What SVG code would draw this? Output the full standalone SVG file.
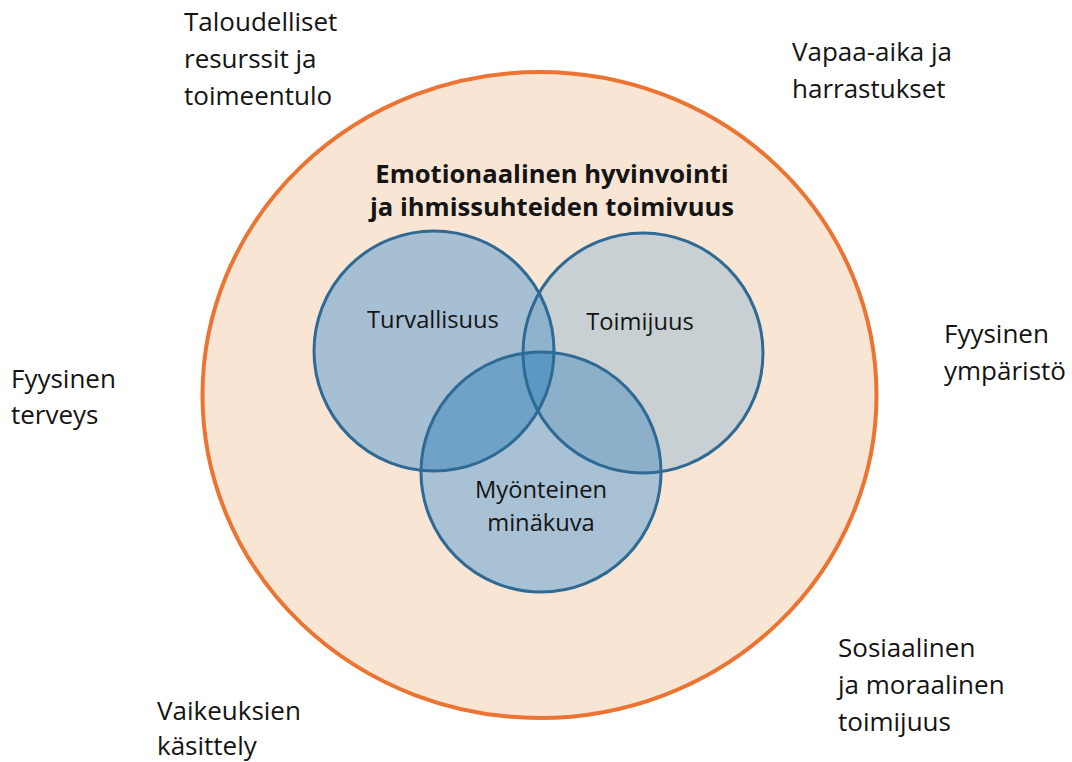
<svg xmlns="http://www.w3.org/2000/svg" width="1072" height="762" viewBox="0 0 1072 762">
<style>
  .lbl { font-family: "Open Sans", "Liberation Sans", sans-serif; font-size: 26px; fill: #141414; }
  .vlbl { font-family: "Open Sans", "Liberation Sans", sans-serif; font-size: 23.7px; fill: #141414; text-anchor: middle; }
  .title { font-family: "Open Sans", "Liberation Sans", sans-serif; font-size: 25.6px; font-weight: bold; fill: #141414; text-anchor: middle; }
  .ring { fill: none; stroke: #2f6a95; stroke-width: 3; }
</style>
<defs>
  <clipPath id="clipL"><circle cx="434" cy="351" r="120"/></clipPath>
  <clipPath id="clipR"><circle cx="643" cy="353" r="120"/></clipPath>
</defs>
<rect width="1072" height="762" fill="#ffffff"/>

<g id="outer">
  <ellipse cx="539.5" cy="395" rx="337" ry="323" fill="#f9e5d3" stroke="#ec7432" stroke-width="4"/>
</g>

<g id="title">
  <text class="title" x="552" y="183">Emotionaalinen hyvinvointi</text>
  <text class="title" x="552" y="216">ja ihmissuhteiden toimivuus</text>
</g>

<g id="venn-fills">
  <circle cx="434" cy="351" r="120" fill="#a7bfd3"/>
  <circle cx="643" cy="353" r="120" fill="#c9d0d3"/>
  <circle cx="541" cy="472" r="120" fill="#a9c1d4"/>
  <circle cx="643" cy="353" r="120" fill="#8fb2cd" clip-path="url(#clipL)"/>
  <circle cx="541" cy="472" r="120" fill="#6ea2c6" clip-path="url(#clipL)"/>
  <circle cx="541" cy="472" r="120" fill="#8db0ca" clip-path="url(#clipR)"/>
  <g clip-path="url(#clipL)">
    <circle cx="541" cy="472" r="120" fill="#5c98c2" clip-path="url(#clipR)"/>
  </g>
</g>

<g id="turvallisuus">
  <circle class="ring" cx="434" cy="351" r="120"/>
  <text class="vlbl" x="433" y="328">Turvallisuus</text>
</g>
<g id="toimijuus">
  <circle class="ring" cx="643" cy="353" r="120"/>
  <text class="vlbl" x="640" y="330">Toimijuus</text>
</g>
<g id="minakuva">
  <circle class="ring" cx="541" cy="472" r="120"/>
  <text class="vlbl" x="541" y="498">Myönteinen</text>
  <text class="vlbl" x="541" y="531">minäkuva</text>
</g>

<g id="connectors"></g>

<g id="taloudelliset">
  <text class="lbl" x="184" y="31">Taloudelliset</text>
  <text class="lbl" x="184" y="68">resurssit ja</text>
  <text class="lbl" x="184" y="105">toimeentulo</text>
</g>
<g id="vapaa-aika">
  <text class="lbl" x="792" y="61">Vapaa-aika ja</text>
  <text class="lbl" x="792" y="98">harrastukset</text>
</g>
<g id="fyysinen-terveys">
  <text class="lbl" x="11" y="388">Fyysinen</text>
  <text class="lbl" x="11" y="424">terveys</text>
</g>
<g id="fyysinen-ymparisto">
  <text class="lbl" x="944" y="343">Fyysinen</text>
  <text class="lbl" x="944" y="380">ympäristö</text>
</g>
<g id="vaikeuksien">
  <text class="lbl" x="157" y="720">Vaikeuksien</text>
  <text class="lbl" x="157" y="755">käsittely</text>
</g>
<g id="sosiaalinen">
  <text class="lbl" x="838" y="657">Sosiaalinen</text>
  <text class="lbl" x="838" y="694">ja moraalinen</text>
  <text class="lbl" x="838" y="731">toimijuus</text>
</g>
</svg>
